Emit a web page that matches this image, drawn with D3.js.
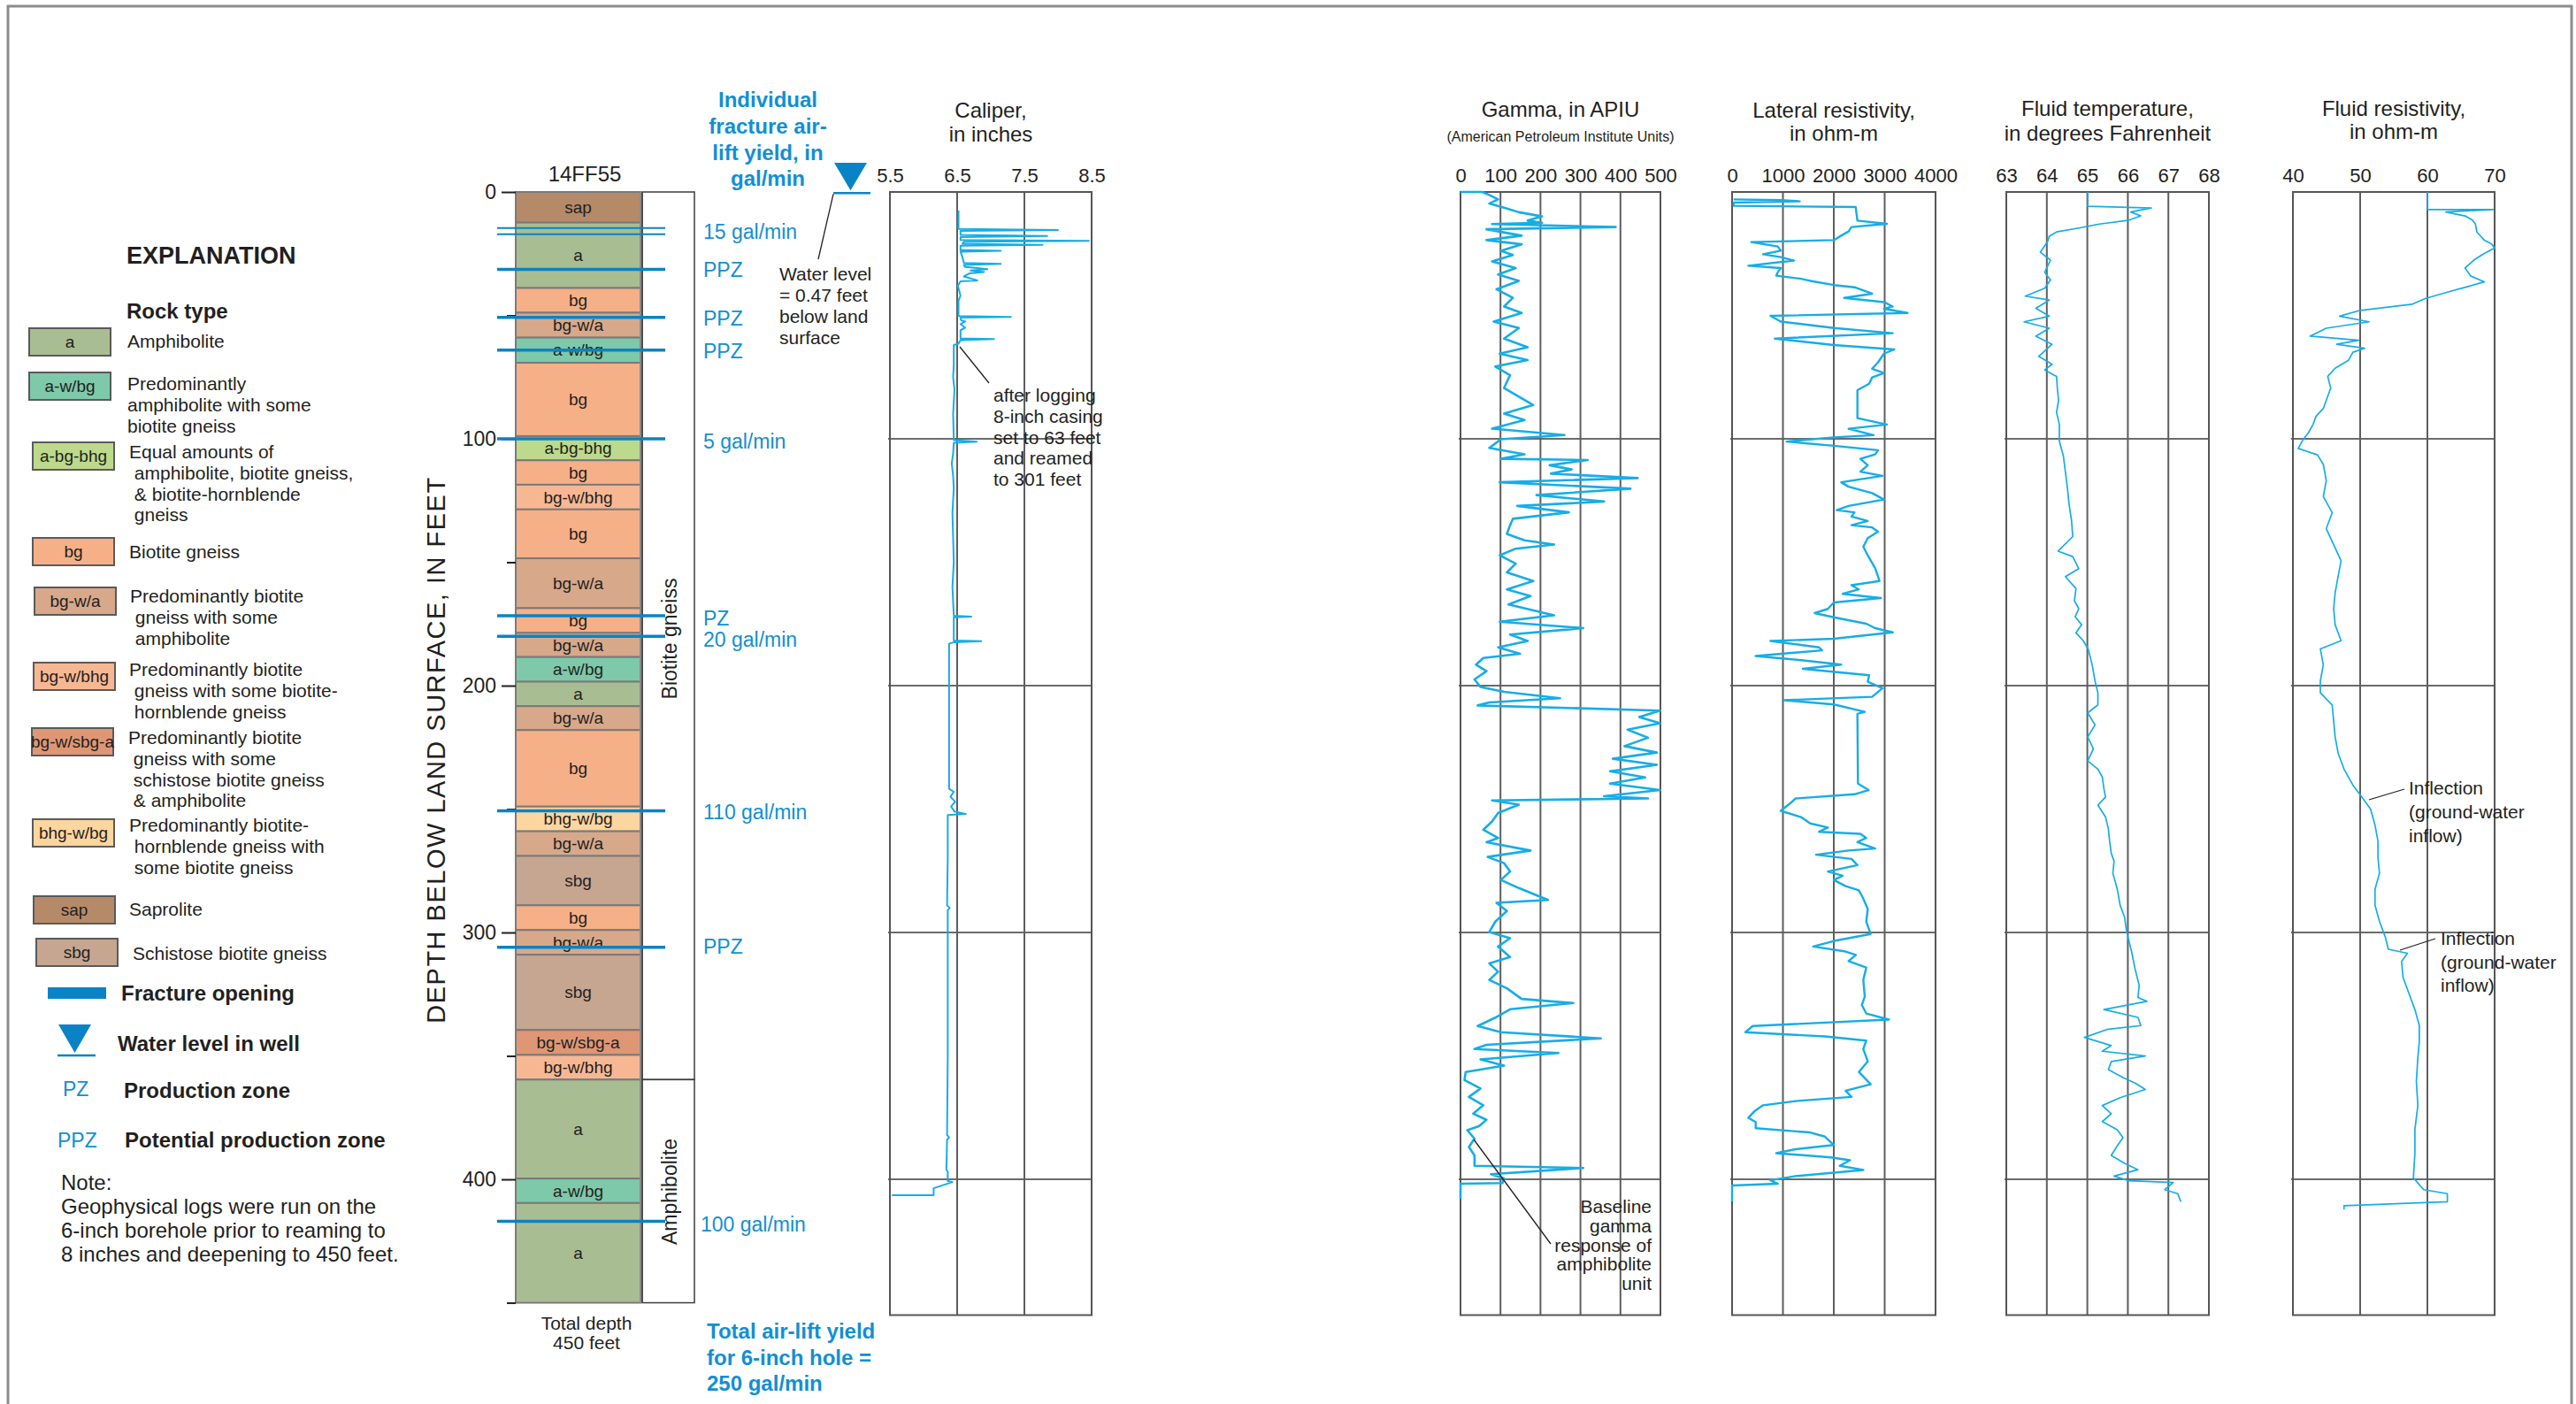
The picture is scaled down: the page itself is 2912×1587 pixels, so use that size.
<!DOCTYPE html>
<html>
<head>
<meta charset="utf-8">
<title>Well 14FF55 — lithology and geophysical logs</title>
<script src="https://cdn.jsdelivr.net/npm/d3@7"></script>
<style>
  html, body { margin: 0; padding: 0; background: #ffffff; }
  svg { display: block; }
  text { font-family: "Liberation Sans", Arial, Helvetica, sans-serif; white-space: pre; }
</style>
</head>
<body>
<svg id="fig" width="2912" height="1587"></svg>
<script>
// ---------------------------------------------------------------
// Data
// ---------------------------------------------------------------
const wellName = "14FF55";
const totalDepth = 450;
const waterLevel = 0.47;            // feet below land surface
const depthTicks = [0, 100, 200, 300, 400];
const minorDepthTicks = [50, 150, 250, 350, 450];
const logGridDepths = [100, 200, 300, 400];

// lithology intervals: [top ft, bottom ft, rock code]
const lithology = [
  [0, 12.4, "sap"], [12.4, 38.9, "a"], [38.9, 48.9, "bg"], [48.9, 59, "bg-w/a"],
  [59, 69.2, "a-w/bg"], [69.2, 98.9, "bg"], [98.9, 108.7, "a-bg-bhg"], [108.7, 118.6, "bg"],
  [118.6, 128.6, "bg-w/bhg"], [128.6, 148.4, "bg"], [148.4, 168.6, "bg-w/a"], [168.6, 178.6, "bg"],
  [178.6, 188.4, "bg-w/a"], [188.4, 198.4, "a-w/bg"], [198.4, 208.3, "a"], [208.3, 218, "bg-w/a"],
  [218, 249, "bg"], [249, 259, "bhg-w/bg"], [259, 269, "bg-w/a"], [269, 289, "sbg"],
  [289, 299, "bg"], [299, 309, "bg-w/a"], [309, 339.5, "sbg"], [339.5, 349.6, "bg-w/sbg-a"],
  [349.6, 359.6, "bg-w/bhg"], [359.6, 399.7, "a"], [399.7, 409.6, "a-w/bg"], [409.6, 450, "a"]
];

// geologic units: [top ft, bottom ft, name, label centre ft]
const units = [
  [0, 359.6, "Biotite gneiss", 181],
  [359.6, 450, "Amphibolite", 405]
];

// fracture openings (ft) and the two closely spaced fine fractures
const fractureDepths = [14.6, 17.1, 31.4, 50.8, 64.1, 100, 171.7, 180, 250.7, 306, 417];
const fineFractures = [14.6, 17.1];

// air-lift yield annotations beside the fractures
const yieldDepths = [16, 31.6, 51.4, 64.6, 101, 172.7, 181.5, 251.4, 305.6, 418.4];
const yieldLabels = ["15 gal/min", "PPZ", "PPZ", "PPZ", "5 gal/min", "PZ", "20 gal/min",
                     "110 gal/min", "PPZ", "100 gal/min"];

// explanation entries
const legendCodes = ["a", "a-w/bg", "a-bg-bhg", "bg", "bg-w/a", "bg-w/bhg", "bg-w/sbg-a", "bhg-w/bg", "sap", "sbg"];
const legendText = [
  ["Amphibolite"],
  ["Predominantly", "amphibolite with some", "biotite gneiss"],
  ["Equal amounts of", " amphibolite, biotite gneiss,", " & biotite-hornblende", " gneiss"],
  ["Biotite gneiss"],
  ["Predominantly biotite", " gneiss with some", " amphibolite"],
  ["Predominantly biotite", " gneiss with some biotite-", " hornblende gneiss"],
  ["Predominantly biotite", " gneiss with some", " schistose biotite gneiss", " & amphibolite"],
  ["Predominantly biotite-", " hornblende gneiss with", " some biotite gneiss"],
  ["Saprolite"],
  ["Schistose biotite gneiss"]
];
const noteText = ["Note:", "Geophysical logs were run on the", "6-inch borehole prior to reaming to", "8 inches and deepening to 450 feet."];

// log tick values
const caliperTicks = [5.5, 6.5, 7.5, 8.5];
const gammaTicks = [0, 100, 200, 300, 400, 500];
const lateralTicks = [0, 1000, 2000, 3000, 4000];
const tempTicks = [63, 64, 65, 66, 67, 68];
const fluidResTicks = [40, 50, 60, 70];

// logs: [depth ft, value]
const caliperLog = [
  [7.5,6.52],[15.0,6.52],[15.4,8.0],[15.8,6.55],[17.4,6.55],[17.8,7.84],[18.3,6.55],[19.4,6.55],
  [19.8,8.46],[20.2,6.6],[21.0,6.58],[21.4,7.77],[21.8,6.55],[23.5,6.55],[23.8,7.15],[24.2,6.55],
  [26.5,6.58],[28.8,6.6],[29.1,7.15],[29.6,6.6],[30.4,6.62],[30.8,6.8],[31.3,6.95],[31.8,6.7],
  [32.4,6.9],[33.0,6.68],[34.2,6.6],[35.8,6.8],[36.2,6.55],[38.0,6.51],[40.0,6.53],[42.0,6.55],
  [44.0,6.52],[50.3,6.52],[50.6,7.3],[50.9,6.55],[52.0,6.56],[52.5,6.62],[53.5,6.55],[55.0,6.62],
  [56.0,6.55],[59.3,6.55],[59.6,7.05],[60.0,6.55],[61.5,6.52],[62.0,6.45],[70,6.45],[75,6.44],
  [80,6.46],[90,6.44],[100.5,6.45],[101.2,6.79],[101.6,6.45],[106,6.44],[110,6.42],[115,6.44],
  [120,6.45],[130,6.43],[140,6.44],[150,6.45],[160,6.43],[171.7,6.45],[172.0,6.71],[172.3,6.45],
  [181.7,6.45],[182.0,6.86],[182.4,6.45],[183.0,6.38],[241.8,6.38],[243,6.45],[245,6.4],[247,6.47],
  [249,6.41],[251,6.46],[252.0,6.63],[252.4,6.36],[270,6.36],[289,6.35],[290,6.39],[291,6.36],
  [350,6.36],[382,6.35],[383,6.38],[384,6.35],[396,6.34],[397,6.36],[400.7,6.36],[401.1,6.43],
  [403.6,6.15],[406.4,6.15],[406.4,5.53]
];

const gammaLog = [
  [0,0],[0,54],[1.2,72],[3.0,94],[4.7,72],[6.4,109],[8.2,146],[9.9,204],[11.6,168],[12.5,204],
  [13.0,79],[14.2,388],[15.1,65],[17.7,153],[19.5,65],[21.2,153],[23.8,101],[25.5,131],[28.1,79],
  [30.8,138],[33.4,94],[36.0,146],[39.4,90],[42.9,131],[46.4,109],[49.0,153],[52.5,83],[55.1,146],
  [59.4,109],[62.9,168],[65.5,98],[68.1,168],[70.7,87],[74.2,124],[79.4,109],[82.9,146],[86.3,182],
  [89.8,109],[92.4,160],[95.9,79],[98.5,260],[100.2,101],[103.7,72],[106.3,160],[108.1,101],
  [108.6,318],[110.7,223],[112.4,278],[114.1,226],[115.9,443],[117.6,98],[120.2,425],[122.8,190],
  [125.4,359],[127.2,142],[129.8,271],[132.4,131],[135.0,124],[138.5,116],[141.1,160],[142.8,234],
  [144.5,138],[147.2,98],[150.6,138],[154.1,116],[157.6,182],[161.0,116],[163.7,175],[167.1,120],
  [171.5,234],[174.1,98],[176.7,307],[179.3,124],[181.9,168],[184.5,94],[187.1,149],[188.8,57],
  [191.5,39],[194.1,65],[197.5,35],[200.5,50],[202.5,109],[205.1,249],[206.8,72],[208.0,43],
  [210.1,499],[212.7,447],[215.2,499],[217.8,418],[221.1,469],[224.5,410],[227.1,491],[229.6,381],
  [232.1,491],[234.7,374],[237.2,462],[239.7,374],[242.3,499],[244.8,359],[245.7,469],[246.5,79],
  [248.2,146],[251.6,94],[255.0,79],[258.4,57],[261.7,94],[263.4,65],[266.8,175],[269.4,68],
  [271.9,109],[275.3,124],[278.7,101],[282.0,146],[285.4,197],[286.8,219],[288.0,90],[291.3,116],
  [295.6,87],[299.8,72],[302.3,124],[305.7,94],[309.9,124],[312.5,72],[315.9,94],[319.2,72],
  [322.6,116],[326.9,153],[328.6,282],[331.1,124],[334.5,87],[337.9,43],[340.4,101],[342.9,351],
  [345.5,65],[347.2,35],[348.8,245],[351.4,50],[353.9,109],[356.5,13],[359.8,10],[363.2,50],
  [366.6,21],[370.0,57],[373.4,32],[375.9,65],[378.5,46],[380.1,17],[383.5,35],[386.9,21],
  [390.3,35],[394.5,35],[395.4,307],[397.9,76],[399.6,109],[401.5,105],[401.8,0],[408,0]
];

const lateralLog = [
  [3.0,30],[3.3,960],[3.8,1330],[4.3,30],[5.6,30],[6.1,2430],[11.6,2464],[12.9,3043],[14.2,2348],
  [16.0,2290],[17.7,2145],[19.5,2000],[20.3,377],[22.1,899],[23.8,957],[25.2,609],[26.4,957],
  [27.8,1217],[29.9,319],[30.8,957],[32.5,899],[33.9,870],[35.1,1333],[36.0,1536],[37.7,2000],
  [38.6,2406],[41.2,2754],[42.9,2203],[44.6,2986],[46.4,3159],[47.3,2986],[49.0,3449],[50.2,754],
  [52.5,957],[55.1,2000],[57.2,3159],[59.4,841],[62.0,2000],[63.8,3188],[65.5,2986],[69.0,2870],
  [71.6,2754],[73.3,2986],[75.1,2754],[77.7,2696],[80.3,2464],[91.6,2464],[94.2,3043],[95.9,2290],
  [98.5,2783],[99.4,2000],[101.1,1072],[102.8,2000],[104.6,2870],[106.3,2812],[108.1,2522],
  [110.7,2667],[113.3,2522],[115.0,2957],[117.6,2145],[119.4,2290],[122.0,2754],[124.6,2986],
  [127.2,2290],[128.9,2058],[129.8,2406],[131.5,2348],[133.3,2667],[135.0,2348],[135.9,2754],
  [137.6,2870],[140.2,2667],[143.7,2580],[147.2,2667],[152.4,2812],[157.6,2899],[159.3,2348],
  [161.0,2493],[162.8,2174],[164.5,2928],[166.3,2000],[168.9,1884],[170.6,1623],[172.3,2000],
  [174.9,2638],[176.7,2812],[178.4,3159],[181.0,2000],[181.9,754],[184.5,1710],[185.7,1768],
  [188.0,464],[189.7,1362],[191.5,2145],[193.2,1391],[195.8,2696],[198.4,2667],[201.0,2957],
  [204.5,2754],[205.9,1026],[207.6,2000],[210.6,2609],[211.4,2464],[239.7,2475],[242.3,2684],
  [244.0,2406],[245.7,1246],[247.4,1159],[250.7,957],[253.3,1362],[255.8,1536],[257.5,1884],
  [259.2,1710],[260.0,2522],[261.7,2638],[263.4,2464],[266.0,2812],[266.8,2290],[268.5,1652],
  [270.2,2348],[272.7,2464],[275.3,1884],[277.0,2174],[278.7,2000],[281.2,2232],[282.9,2493],
  [286.3,2580],[290.5,2667],[295.6,2638],[300.6,2725],[303.2,2058],[305.7,1594],[307.7,2232],
  [309.1,2435],[311.6,2290],[314.2,2638],[319.2,2580],[326.0,2609],[329.4,2551],[332.8,2638],
  [335.3,3084],[337.9,406],[340.4,261],[342.1,1826],[343.8,2638],[347.2,2580],[352.2,2667],
  [356.5,2493],[361.5,2725],[364.1,2232],[366.6,2348],[368.3,1246],[370.0,609],[372.5,435],
  [375.1,319],[376.8,464],[379.3,464],[381.0,1536],[382.7,1826],[386.1,2000],[387.8,1246],
  [389.4,870],[391.1,1942],[392.3,2319],[394.5,2116],[396.2,2580],[398.7,1246],[400.4,754],
  [401.8,899],[402.5,0],[408.9,0]
];

const tempLog = [
  [0,65.01],[5.8,65.01],[6.5,66.58],[8.1,66.07],[9.7,66.32],[11.4,66.03],[13.0,65.30],[14.6,64.79],
  [16.2,64.24],[17.9,64.06],[20.1,64.02],[24.4,63.84],[27.6,64.09],[32.5,63.95],[35.7,64.09],
  [39.0,63.95],[42.2,63.47],[43.8,64.06],[47.1,63.73],[50.3,64.06],[52.6,63.44],[55.2,64.06],
  [58.4,63.73],[61.7,64.13],[66.6,63.80],[69.8,64.13],[72.1,63.95],[74.7,64.24],[79.5,64.26],
  [84.4,64.29],[89.3,64.24],[94.2,64.31],[101.0,64.31],[107.1,64.41],[113.6,64.46],[120.1,64.51],
  [126.6,64.55],[133.1,64.61],[139.6,64.64],[145.5,64.28],[147.7,64.64],[152.6,64.79],[155.8,64.46],
  [160.7,64.72],[165.6,64.68],[168.8,64.79],[172.1,64.70],[175.3,64.86],[178.6,64.72],[181.8,64.90],
  [185.1,65.02],[191.6,65.12],[198.1,65.19],[202.9,65.26],[207.8,65.26],[211.0,65.01],[215.9,65.19],
  [220.8,65.01],[225.6,65.15],[230.5,65.01],[233.8,65.26],[237.0,65.37],[241.9,65.41],[245.1,65.45],
  [248.4,65.26],[253.2,65.45],[258.1,65.52],[263.0,65.55],[267.9,65.59],[271.1,65.66],[276.0,65.63],
  [282.5,65.74],[289.0,65.81],[293.8,65.92],[298.7,65.96],[303.6,66.03],[308.4,66.10],[314.9,66.18],
  [321.4,66.28],[326.3,66.25],[327.9,66.47],[331.2,65.41],[334.4,66.25],[337.7,66.32],[339.3,65.48],
  [342.5,64.93],[345.8,65.59],[348.1,65.37],[350.0,66.43],[352.3,65.59],[355.5,65.52],[358.8,65.88],
  [361.0,66.18],[363.6,66.43],[366.9,65.81],[370.1,65.37],[373.4,65.59],[376.6,65.37],[379.9,65.74],
  [383.1,65.88],[386.4,65.74],[390.3,65.59],[393.5,65.92],[396.1,66.25],[398.7,65.66],[400.6,66.03],
  [401.3,67.12],[404.2,66.91],[405.8,67.23],[409.1,67.31]
];

const fluidResLog = [
  [0,60.03],[7.1,60.03],[7.1,69.78],[8.1,62.75],[9.7,65.60],[11.4,66.70],[13.0,67.14],[16.2,67.36],
  [19.5,68.46],[21.1,69.56],[22.7,70.0],[25.3,68.24],[27.6,66.92],[30.8,65.60],[34.1,66.48],
  [36.4,68.46],[38.3,66.04],[40.6,62.97],[43.2,59.67],[45.5,57.70],[48.1,49.79],[50.3,46.94],
  [52.6,51.33],[55.2,44.96],[58.4,42.55],[60.1,49.79],[61.7,46.50],[63.3,50.67],[64.9,48.92],
  [68.2,48.26],[71.4,46.28],[74.7,45.18],[79.5,45.62],[84.4,44.96],[87.7,44.52],[90.9,43.43],
  [94.2,42.99],[97.4,42.33],[100.6,41.45],[103.9,40.79],[106.5,43.65],[110.4,44.52],[116.9,44.96],
  [123.4,44.52],[129.9,45.84],[136.4,44.96],[142.9,46.06],[149.4,47.16],[155.8,46.72],[162.3,46.28],
  [168.8,46.06],[175.3,46.28],[181.8,47.16],[185.1,44.08],[191.6,44.52],[198.1,44.08],[202.9,44.08],
  [207.8,45.84],[214.3,46.06],[220.8,46.28],[227.3,46.72],[233.8,47.60],[240.3,48.92],[245.1,50.23],
  [250.0,51.55],[256.5,52.21],[263.0,52.65],[269.5,52.65],[276.0,52.87],[282.5,52.21],[289.0,52.21],
  [295.5,52.87],[301.9,53.75],[306.8,54.19],[308.4,57.04],[311.7,56.16],[318.2,56.38],[324.7,57.26],
  [331.2,58.14],[337.7,58.80],[344.2,58.80],[350.6,58.58],[360.4,58.36],[370.1,58.58],[379.9,58.14],
  [389.6,58.14],[399.4,57.92],[404.2,59.46],[405.8,62.97],[409.1,62.97],[410.7,47.60],[412.3,47.60]
];

// ---------------------------------------------------------------
// Styles
// ---------------------------------------------------------------
const INK = "#231f20";
const BLUE_TEXT = "#118fd4";
const FRACTURE_BLUE = "#0a83c6";
const CURVE_BLUE = "#16ade6";
const rockColor = {
  "sap": "#b58a69", "a": "#a9bd93", "a-w/bg": "#7dc9aa", "a-bg-bhg": "#bdd98b",
  "bg": "#f6b087", "bg-w/a": "#d7a88a", "bg-w/bhg": "#f8b793", "bg-w/sbg-a": "#df9675",
  "bhg-w/bg": "#fdd59f", "sbg": "#c6a690"
};

const svg = d3.select("#fig");
svg.append("rect").attr("width", 2912).attr("height", 1587).attr("fill", "#fff");

// outer frame
svg.append("rect").attr("x", 9).attr("y", 7).attr("width", 2898).attr("height", 1600)
  .attr("fill", "none").attr("stroke", "#8c8c8c").attr("stroke-width", 3);

// shared depth scale
const depth = d3.scaleLinear().domain([0, 455]).range([217, 1486.5]);

function textLines(g, lines, x, y0, lh, size, opts = {}) {
  const t = g.append("g");
  lines.forEach((s, i) => {
    t.append("text")
      .attr("x", x).attr("y", y0 + i * lh).attr("dy", "0.35em")
      .attr("font-size", size)
      .attr("font-weight", opts.bold ? "bold" : null)
      .attr("fill", opts.fill || INK)
      .attr("text-anchor", opts.anchor || "start")
      .text(s);
  });
  return t;
}

// ---------------------------------------------------------------
// Explanation
// ---------------------------------------------------------------
const leg = svg.append("g");
textLines(leg, ["EXPLANATION"], 143, 289, 0, 27, { bold: true });
textLines(leg, ["Rock type"], 143, 352, 0, 24, { bold: true });

const swatchX = [33, 33, 37, 37, 39, 38, 36, 37, 38, 41];
const swatchY = [371, 421, 500, 608, 664, 749, 823, 926, 1013, 1061];
const legTextX = [144, 144, 146, 146, 147, 146, 145, 146, 146, 150];
const legTextY = [386, 434, 511, 624, 674, 757, 834, 933, 1028, 1078];

legendCodes.forEach((code, i) => {
  leg.append("rect")
    .attr("x", swatchX[i]).attr("y", swatchY[i]).attr("width", 92).attr("height", 31)
    .attr("fill", rockColor[code]).attr("stroke", "#5a5a5a").attr("stroke-width", 2);
  leg.append("text")
    .attr("x", swatchX[i] + 46).attr("y", swatchY[i] + 15.5).attr("dy", "0.35em")
    .attr("text-anchor", "middle").attr("font-size", 19).attr("fill", INK).text(code);
  textLines(leg, legendText[i], legTextX[i], legTextY[i], 23.7, 21);
});

// fracture opening symbol
leg.append("rect").attr("x", 54).attr("y", 1116).attr("width", 66).attr("height", 13).attr("fill", FRACTURE_BLUE);
textLines(leg, ["Fracture opening"], 137, 1123, 0, 24, { bold: true });

// water level symbol
leg.append("path").attr("d", "M66,1158 L103,1158 L84.5,1190 Z").attr("fill", FRACTURE_BLUE);
leg.append("line").attr("x1", 65).attr("x2", 108).attr("y1", 1193).attr("y2", 1193)
  .attr("stroke", FRACTURE_BLUE).attr("stroke-width", 2.5);
textLines(leg, ["Water level in well"], 133, 1180, 0, 24, { bold: true });

textLines(leg, ["PZ"], 71, 1231, 0, 23, { fill: BLUE_TEXT });
textLines(leg, ["Production zone"], 140, 1233, 0, 24, { bold: true });
textLines(leg, ["PPZ"], 65, 1289, 0, 23, { fill: BLUE_TEXT });
textLines(leg, ["Potential production zone"], 141, 1289, 0, 24, { bold: true });

textLines(leg, noteText, 69, 1337, 26.7, 24);

// ---------------------------------------------------------------
// Lithologic column
// ---------------------------------------------------------------
const colL = 583, colR = 724, unitR = 785;
const col = svg.append("g");

svg.append("text").attr("x", 661).attr("y", 197).attr("dy", "0.35em")
  .attr("text-anchor", "middle").attr("font-size", 24).attr("fill", INK).text(wellName);

col.selectAll("rect.layer").data(lithology).join("rect")
  .attr("class", "layer")
  .attr("x", colL).attr("width", colR - colL)
  .attr("y", d => depth(d[0])).attr("height", d => depth(d[1]) - depth(d[0]))
  .attr("fill", d => rockColor[d[2]])
  .attr("stroke", "#7a7a7a").attr("stroke-width", 2);

col.selectAll("text.layer").data(lithology).join("text")
  .attr("class", "layer")
  .attr("x", (colL + colR) / 2)
  .attr("y", d => depth((d[0] + d[1]) / 2)).attr("dy", "0.35em")
  .attr("text-anchor", "middle").attr("font-size", 19).attr("fill", INK)
  .text(d => d[2]);

// thick right edge of the column
col.append("line").attr("x1", colR + 1).attr("x2", colR + 1)
  .attr("y1", depth(0)).attr("y2", depth(totalDepth))
  .attr("stroke", "#8a8a8a").attr("stroke-width", 4);

// unit box
const unitG = svg.append("g");
units.forEach(u => {
  unitG.append("rect")
    .attr("x", colR + 2).attr("width", unitR - colR - 2)
    .attr("y", depth(u[0])).attr("height", depth(u[1]) - depth(u[0]))
    .attr("fill", "none").attr("stroke", "#3d3d3d").attr("stroke-width", 1.5);
  const cy = depth(u[3]);
  unitG.append("text")
    .attr("transform", `translate(${(colR + unitR) / 2 + 2},${cy}) rotate(-90)`)
    .attr("dy", "0.35em").attr("text-anchor", "middle")
    .attr("font-size", 23).attr("fill", INK).text(u[2]);
});

// depth axis
const dAxis = svg.append("g").attr("transform", `translate(${colL},0)`)
  .call(d3.axisLeft(depth).tickValues(depthTicks).tickSize(16).tickPadding(6));
dAxis.select(".domain").remove();
dAxis.selectAll("line").attr("stroke", INK).attr("stroke-width", 2);
dAxis.selectAll("text").attr("font-size", 23).attr("fill", INK)
  .attr("font-family", '"Liberation Sans", Arial, sans-serif');

const mAxis = svg.append("g").attr("transform", `translate(${colL},0)`)
  .call(d3.axisLeft(depth).tickValues(minorDepthTicks).tickSize(10).tickFormat(() => ""));
mAxis.select(".domain").remove();
mAxis.selectAll("line").attr("stroke", INK).attr("stroke-width", 2);

svg.append("text")
  .attr("transform", `translate(493,${depth(226)}) rotate(-90)`)
  .attr("dy", "0.35em").attr("text-anchor", "middle")
  .attr("font-size", 29).attr("letter-spacing", 1.5).attr("fill", INK)
  .text("DEPTH BELOW LAND SURFACE, IN FEET");

textLines(svg, ["Total depth", "450 feet"], 663, 1496, 22, 21, { anchor: "middle" });

// fractures
svg.append("g").selectAll("line").data(fractureDepths).join("line")
  .attr("x1", 562).attr("x2", 752)
  .attr("y1", d => depth(d)).attr("y2", d => depth(d))
  .attr("stroke", FRACTURE_BLUE)
  .attr("stroke-width", d => fineFractures.includes(d) ? 2 : 3.5);

// yields
svg.append("g").selectAll("text").data(yieldLabels).join("text")
  .attr("x", (d, i) => i === yieldLabels.length - 1 ? 792 : 795)
  .attr("y", (d, i) => depth(yieldDepths[i])).attr("dy", "0.35em")
  .attr("font-size", 23).attr("fill", BLUE_TEXT).text(d => d);

textLines(svg, ["Individual", "fracture air-", "lift yield, in", "gal/min"], 868, 113, 29.6, 24,
  { bold: true, fill: BLUE_TEXT, anchor: "middle" });
textLines(svg, ["Total air-lift yield", "for 6-inch hole =", "250 gal/min"], 799, 1505, 29.5, 24,
  { bold: true, fill: BLUE_TEXT });

// water level
const wl = depth(waterLevel);
svg.append("path").attr("d", `M943,184 L980,184 L961.5,${wl - 3} Z`).attr("fill", FRACTURE_BLUE);
svg.append("line").attr("x1", 942).attr("x2", 984).attr("y1", wl).attr("y2", wl)
  .attr("stroke", FRACTURE_BLUE).attr("stroke-width", 2.5);
svg.append("line").attr("x1", 942).attr("y1", wl + 1).attr("x2", 925).attr("y2", 293)
  .attr("stroke", INK).attr("stroke-width", 1.3);
textLines(svg, ["Water level", "= 0.47 feet", "below land", "surface"], 881, 310, 24, 21);

// ---------------------------------------------------------------
// Geophysical log tracks
// ---------------------------------------------------------------
const tracks = [
  { left: 1006, right: 1234, domain: [5.5, 8.5], ticks: caliperTicks, fmt: d3.format(".1f"),
    log: caliperLog, title: ["Caliper,", "in inches"], titleY: [125, 152], width: 2 },
  { left: 1651, right: 1877, domain: [0, 500], ticks: gammaTicks, fmt: d3.format("d"),
    log: gammaLog, title: ["Gamma, in APIU"], titleY: [124], width: 2.6,
    sub: "(American Petroleum Institute Units)" },
  { left: 1958, right: 2188, domain: [0, 4000], ticks: lateralTicks, fmt: d3.format("d"),
    log: lateralLog, title: ["Lateral resistivity,", "in ohm-m"], titleY: [125, 151], width: 2.4 },
  { left: 2268, right: 2497, domain: [63, 68], ticks: tempTicks, fmt: d3.format("d"),
    log: tempLog, title: ["Fluid temperature,", "in degrees Fahrenheit"], titleY: [123, 151], width: 1.7 },
  { left: 2592, right: 2820, domain: [40, 70], ticks: fluidResTicks, fmt: d3.format("d"),
    log: fluidResLog, title: ["Fluid resistivity,", "in ohm-m"], titleY: [123, 149], width: 1.7 }
];

tracks.forEach(t => {
  const x = d3.scaleLinear().domain(t.domain).range([t.left, t.right]);
  const g = svg.append("g");
  const top = depth(0), bottom = depth(455);

  // horizontal grid
  g.selectAll("line.h").data(logGridDepths).join("line")
    .attr("class", "h")
    .attr("x1", t.left - 2).attr("x2", t.right)
    .attr("y1", d => depth(d)).attr("y2", d => depth(d))
    .attr("stroke", "#3a3a3a").attr("stroke-width", 1.5);

  // vertical grid
  g.selectAll("line.v").data(t.ticks).join("line")
    .attr("class", "v")
    .attr("x1", d => x(d)).attr("x2", d => x(d))
    .attr("y1", top).attr("y2", bottom)
    .attr("stroke", "#5e5e5e").attr("stroke-width", 2);

  // frame
  g.append("rect").attr("x", t.left).attr("y", top)
    .attr("width", t.right - t.left).attr("height", bottom - top)
    .attr("fill", "none").attr("stroke", "#555").attr("stroke-width", 2);

  // curve
  const line = d3.line().x(d => x(d[1])).y(d => depth(d[0]));
  g.append("path").datum(t.log)
    .attr("d", line)
    .attr("fill", "none").attr("stroke", CURVE_BLUE)
    .attr("stroke-width", t.width).attr("stroke-linejoin", "round");

  // scale labels
  const ax = g.append("g").attr("transform", "translate(0,206)")
    .call(d3.axisTop(x).tickValues(t.ticks).tickSize(0).tickPadding(0).tickFormat(t.fmt));
  ax.select(".domain").remove();
  ax.selectAll("text").attr("font-size", 22).attr("fill", INK)
    .attr("font-family", '"Liberation Sans", Arial, sans-serif');

  // title
  const cx = (t.left + t.right) / 2;
  t.title.forEach((s, i) => {
    g.append("text").attr("x", cx).attr("y", t.titleY[i]).attr("dy", "0.35em")
      .attr("text-anchor", "middle").attr("font-size", 24).attr("fill", INK).text(s);
  });
  if (t.sub) {
    g.append("text").attr("x", cx).attr("y", 154).attr("dy", "0.35em")
      .attr("text-anchor", "middle").attr("font-size", 16).attr("fill", INK).text(t.sub);
  }
});

// ---------------------------------------------------------------
// Annotations on the logs
// ---------------------------------------------------------------
const note = svg.append("g");
note.append("line").attr("x1", 1085).attr("y1", 392).attr("x2", 1118).attr("y2", 433)
  .attr("stroke", INK).attr("stroke-width", 1.3);
textLines(note, ["after logging", "8-inch casing", "set to 63 feet", "and reamed", "to 301 feet"], 1123, 447, 23.7, 21);

note.append("line").attr("x1", 1666).attr("y1", 1288).attr("x2", 1753).attr("y2", 1406)
  .attr("stroke", INK).attr("stroke-width", 1.3);
textLines(note, ["Baseline", "gamma", "response of", "amphibolite", "unit"], 1867, 1364, 21.6, 21, { anchor: "end" });

note.append("line").attr("x1", 2678).attr("y1", 904).attr("x2", 2718).attr("y2", 892)
  .attr("stroke", INK).attr("stroke-width", 1.3);
textLines(note, ["Inflection", "(ground-water", "inflow)"], 2723, 891, 27, 21);

note.append("line").attr("x1", 2713).attr("y1", 1074).attr("x2", 2753).attr("y2", 1061)
  .attr("stroke", INK).attr("stroke-width", 1.3);
textLines(note, ["Inflection", "(ground-water", "inflow)"], 2759, 1061, 26.5, 21);
</script>
</body>
</html>
